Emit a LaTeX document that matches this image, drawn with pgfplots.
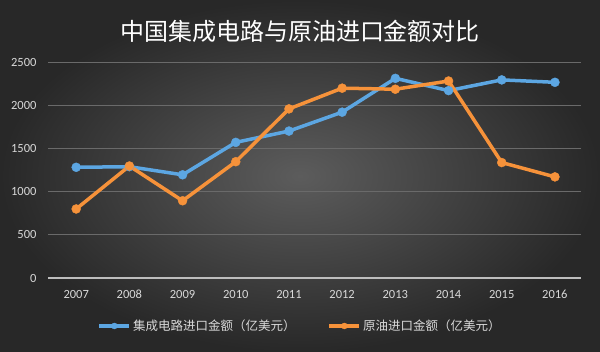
\documentclass[border=0pt]{standalone}
\usepackage{pgfplots}
\pgfplotsset{compat=1.18}
\usepackage{fontspec}
\setmainfont{Carlito}
\newfontfamily\cjk{Noto Sans CJK SC}
\definecolor{bgin}{HTML}{5C5C5C}
\definecolor{bgout}{HTML}{282828}
\definecolor{gridc}{HTML}{6A6A6A}
\definecolor{axc}{HTML}{BDBDBD}
\definecolor{txtc}{HTML}{D9D9D9}
\definecolor{icblue}{HTML}{5CA6E2}
\definecolor{oilorange}{HTML}{F6923A}
\begin{document}
\begin{tikzpicture}[x=1pt,y=1pt]
\shade[inner color=bgin, outer color=bgout] (0,0) rectangle (600,352);
\useasboundingbox (0,0) rectangle (600,352);
\node[text=white, font=\cjk\fontsize{24}{28}\selectfont] at (300,321) {中国集成电路与原油进口金额对比};
\begin{axis}[
  at={(48pt,74pt)}, anchor=south west, scale only axis,
  width=533pt, height=215.7pt,
  xmin=2006.47, xmax=2016.49, ymin=0, ymax=2500,
  xtick={2007,...,2016}, ytick={0,500,...,2500},
  /pgf/number format/1000 sep={},
  xticklabel style={anchor=base, yshift=-21pt},
  yticklabel style={xshift=-8pt},
  /pgf/number format/assume math mode=true,
  ticklabel style={text=txtc, font=\fontsize{12.5}{14}\selectfont},
  major tick length=0pt,
  ymajorgrids, grid style={color=gridc, line width=0.8pt},
  axis x line*=bottom, axis y line*=left,
  y axis line style={draw=none},
  x axis line style={color=axc, line width=1.6pt, -},
  clip=false,
  legend style={at={(0.473,-0.2225)}, anchor=center, legend columns=2, draw=none, fill=none,
    text=txtc, font=\cjk\fontsize{12.5}{14}\selectfont,
    /tikz/every even column/.append style={column sep=30pt}},
  legend cell align=left,
  legend image code/.code={\draw[#1, mark repeat=2, mark phase=2, mark size=3pt] plot coordinates {(0pt,0pt)(15pt,0pt)(30pt,0pt)};},
]
\addplot[color=icblue, line width=3.5pt, mark=*, mark size=4.5pt, mark options={solid, fill=icblue, draw=icblue, line width=0.4pt}] coordinates {
(2007,1283)(2008,1290)(2009,1196)(2010,1572)(2011,1703)(2012,1922)(2013,2314)(2014,2172)(2015,2296)(2016,2268)};
\addlegendentry{集成电路进口金额（亿美元）}
\addplot[color=oilorange, line width=3.5pt, mark=*, mark size=4.5pt, mark options={solid, fill=oilorange, draw=oilorange, line width=0.4pt}] coordinates {
(2007,800)(2008,1298)(2009,895)(2010,1348)(2011,1960)(2012,2200)(2013,2188)(2014,2283)(2015,1338)(2016,1172)};
\addlegendentry{原油进口金额（亿美元）}
\end{axis}
\end{tikzpicture}
\end{document}
